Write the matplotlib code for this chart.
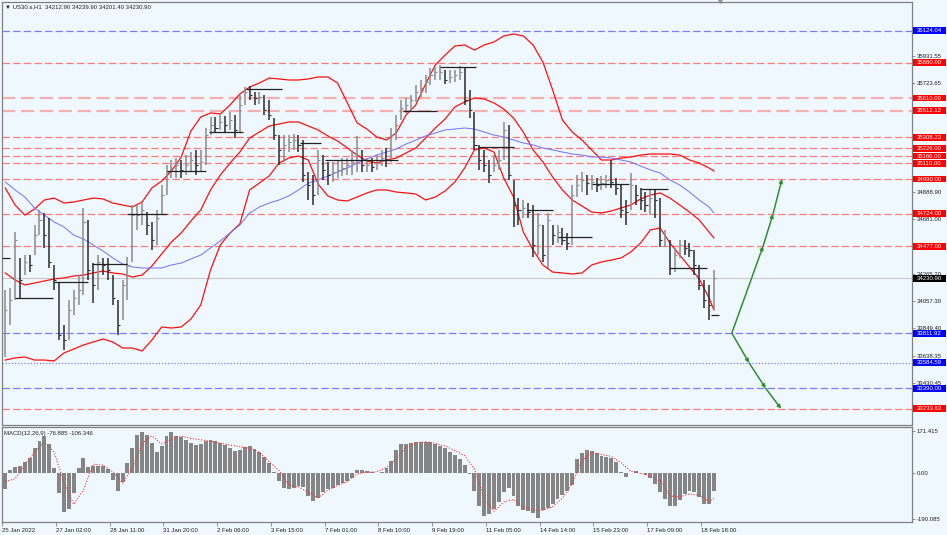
import matplotlib
matplotlib.use('Agg')
import matplotlib.pyplot as plt
import numpy as np
from matplotlib.patches import Rectangle
from matplotlib.transforms import blended_transform_factory

plt.rcParams['font.family'] = ['Liberation Sans', 'DejaVu Sans']

close = [33989, 34065, 34524, 34218, 34356, 34333, 34562, 34677, 34562, 34356,
         34218, 33798, 33759, 33989, 34081, 34142, 34662, 34295, 34180, 34356,
         34333, 34295, 34081, 33874, 34180, 34333, 34715, 34715, 34754, 34639,
         34524, 34692, 34868, 35044, 35075, 35098, 35060, 35098, 35136, 35098,
         35121, 35327, 35404, 35381, 35427, 35404, 35442, 35366, 35557, 35656,
         35633, 35610, 35618, 35519, 35480, 35327, 35213, 35251, 35274, 35289,
         35251, 35021, 34945, 34868, 35136, 35060, 35021, 35044, 35060, 35075,
         35098, 35121, 35136, 35098, 35098, 35083, 35113, 35151, 35136, 35327,
         35404, 35534, 35557, 35595, 35656, 35687, 35733, 35786, 35809, 35809,
         35748, 35771, 35786, 35809, 35595, 35519, 35251, 35136, 35098, 35021,
         35098, 35136, 35366, 35021, 34792, 34754, 34769, 34738, 34486, 34639,
         34409, 34677, 34562, 34585, 34524, 34501, 34868, 34945, 34983, 34960,
         34968, 34945, 34960, 34983, 34968, 34922, 34754, 34738, 34945, 34868,
         34830, 34792, 34845, 34830, 34524, 34540, 34310, 34409, 34486, 34463,
         34448, 34333, 34180, 34065, 34027, 34230.9]
high = [34142, 34157, 34585, 34387, 34409, 34409, 34639, 34754, 34731, 34692,
        34333, 34195, 33874, 34065, 34142, 34256, 34769, 34677, 34348, 34409,
        34387, 34387, 34256, 34065, 34218, 34394, 34792, 34792, 34807, 34738,
        34662, 34754, 34945, 35098, 35136, 35151, 35136, 35174, 35197, 35213,
        35213, 35381, 35465, 35465, 35480, 35473, 35503, 35480, 35633, 35694,
        35702, 35656, 35656, 35633, 35595, 35457, 35327, 35327, 35327, 35335,
        35327, 35289, 35044, 35021, 35213, 35174, 35121, 35121, 35136, 35151,
        35151, 35213, 35320, 35213, 35151, 35151, 35174, 35213, 35228, 35381,
        35480, 35595, 35610, 35633, 35710, 35748, 35786, 35840, 35847, 35863,
        35825, 35825, 35825, 35855, 35847, 35672, 35503, 35251, 35213, 35136,
        35174, 35213, 35427, 35404, 34983, 34845, 34830, 34807, 34792, 34731,
        34639, 34731, 34639, 34639, 34616, 34578, 34945, 35021, 35044, 35021,
        35021, 34998, 35014, 35021, 35136, 34998, 34945, 34830, 35037, 34945,
        34922, 34891, 34907, 34907, 34845, 34601, 34524, 34463, 34524, 34524,
        34501, 34448, 34333, 34218, 34180, 34295]
low = [33629, 33874, 34065, 34081, 34256, 34279, 34409, 34562, 34463, 34310,
       34142, 33759, 33683, 33759, 33950, 34027, 34103, 34218, 34042, 34142,
       34256, 34218, 34027, 33798, 33912, 34065, 34356, 34601, 34639, 34562,
       34448, 34486, 34715, 34868, 34998, 34998, 34998, 35021, 35044, 35021,
       35044, 35098, 35327, 35343, 35366, 35350, 35366, 35304, 35350, 35557,
       35595, 35557, 35564, 35480, 35442, 35289, 35098, 35136, 35197, 35213,
       35197, 34968, 34830, 34792, 34868, 34983, 34945, 34968, 34998, 35014,
       35021, 35021, 35044, 35044, 35044, 35044, 35060, 35090, 35083, 35121,
       35289, 35442, 35496, 35503, 35580, 35618, 35649, 35710, 35748, 35748,
       35717, 35725, 35733, 35748, 35557, 35457, 35213, 35060, 35044, 34960,
       35044, 35060, 35136, 34983, 34624, 34639, 34692, 34692, 34394, 34409,
       34356, 34310, 34486, 34501, 34486, 34448, 34486, 34853, 34891, 34868,
       34907, 34891, 34907, 34922, 34922, 34868, 34692, 34639, 34754, 34792,
       34754, 34738, 34715, 34692, 34471, 34471, 34256, 34279, 34387, 34409,
       34394, 34256, 34142, 34004, 33912, 33989]

# indicator lines, sampled every 2nd bar
band_bars = list(range(0, 145, 2)) + [145]
bb_upper = [34922, 34792, 34715, 34761, 34830, 34845, 34807, 34815, 34830, 34845,
            34838, 34807, 34792, 34777, 34815, 34922, 34975, 35052, 35159, 35358,
            35465, 35496, 35488, 35557, 35641, 35694, 35725, 35763, 35756, 35748,
            35748, 35756, 35771, 35771, 35725, 35572, 35419, 35373, 35312, 35289,
            35343, 35480, 35557, 35717, 35863, 35939, 36008, 36016, 35977, 36016,
            36039, 36085, 36100, 36085, 36016, 35886, 35672, 35442, 35350, 35289,
            35213, 35136, 35136, 35151, 35159, 35174, 35182, 35182, 35182, 35174,
            35136, 35113, 35075, 35052]
bb_middle = [34272, 34218, 34180, 34195, 34211, 34226, 34234, 34249, 34256, 34272,
             34287, 34272, 34264, 34241, 34256, 34325, 34417, 34509, 34578, 34670,
             34754, 34907, 35021, 35113, 35197, 35304, 35350, 35396, 35411, 35427,
             35427, 35396, 35366, 35320, 35281, 35228, 35174, 35128, 35113, 35136,
             35151, 35190, 35228, 35304, 35381, 35450, 35542, 35580, 35610, 35603,
             35572, 35526, 35457, 35350, 35213, 35121, 35006, 34907, 34830, 34784,
             34738, 34731, 34746, 34769, 34792, 34838, 34868, 34884, 34845, 34792,
             34738, 34677, 34585, 34540]
bb_lower = [33606, 33622, 33629, 33606, 33606, 33599, 33660, 33690, 33721, 33744,
            33767, 33744, 33698, 33698, 33675, 33759, 33859, 33851, 33859, 33920,
            34027, 34295, 34486, 34578, 34647, 34907, 34960, 35014, 35113, 35151,
            35167, 35136, 34953, 34861, 34830, 34823, 34853, 34884, 34907, 34907,
            34891, 34884, 34876, 34830, 34853, 34899, 34968, 35075, 35213, 35228,
            35197, 34998, 34853, 34585, 34448, 34333, 34279, 34272, 34264, 34272,
            34333, 34356, 34371, 34387, 34432, 34501, 34601, 34616, 34501, 34409,
            34318, 34226, 34081, 33989]
ma_blue = [34968, 34907, 34853, 34769, 34715, 34662, 34624, 34562, 34532, 34486,
           34440, 34387, 34341, 34318, 34310, 34310, 34310, 34333, 34348, 34379,
           34409, 34463, 34517, 34578, 34639, 34731, 34777, 34807, 34830, 34861,
           34907, 34960, 34983, 35014, 35044, 35075, 35113, 35144, 35174, 35197,
           35220, 35258, 35289, 35320, 35343, 35366, 35373, 35381, 35373, 35350,
           35327, 35312, 35289, 35266, 35251, 35228, 35213, 35197, 35182, 35174,
           35159, 35159, 35151, 35136, 35121, 35090, 35060, 35037, 34983, 34945,
           34891, 34830, 34777, 34731]

# black step levels (start hour, end hour, price)
pivot_start = [0, 8, 32, 55, 77, 101, 127, 150, 183, 198, 246, 269, 292, 322, 341, 362, 392, 410, 435]
pivot_end = [5, 31, 53, 77, 101, 125, 148, 172, 196, 243, 267, 291, 314, 338, 362, 385, 409, 433, 440]
pivot_price = [34387, 34080, 34203, 34338, 34723, 35052, 35350, 35679, 35266, 35136,
               35511, 35847, 35235, 34754, 34547, 34953, 34914, 34310, 33950]

levels = [36124.04, 35880.00, 35610.00, 35512.12, 35308.23, 35226.00, 35166.00, 35110.00,
          34990.00, 34724.00, 34477.00, 33811.92, 33584.59, 33390.00, 33233.63]
level_kind = ['blue', 'red', 'pink', 'pink', 'red', 'red', 'red', 'red',
              'red', 'red', 'red', 'blue', 'dot', 'blue', 'red']
last_price = 34230.90

up_hours = [448, 467.2, 473.3, 478.8]
up_prices = [33811.92, 34477.00, 34724.00, 34990.00]
down_hours = [448, 458.6, 468.8, 478.2]
down_prices = [33811.92, 33584.59, 33390.00, 33233.63]

# MACD(12,26,9)
macd_hist = [-65, 10, 24, 26, 45, 62, 100, 132, 152, 120,
             20, -85, -160, -150, -85, 20, 60, 24, 27, 27,
             27, 15, -30, -75, -40, 40, 103, 155, 168, 154,
             121, 87, 110, 152, 166, 152, 147, 135, 122, 114,
             118, 130, 135, 132, 123, 112, 100, 89, 93, 106,
             110, 97, 85, 65, 38, 5, -35, -61, -65, -63,
             -56, -60, -97, -116, -102, -80, -68, -62, -52, -43,
             -36, -20, 12, 11, 6, 2, 0, 5, 18, 50,
             95, 116, 120, 124, 127, 127, 127, 126, 120, 108,
             100, 84, 74, 58, 30, -5, -75, -138, -178, -168,
             -150, -122, -80, -64, -95, -135, -152, -156, -167, -185,
             -152, -143, -128, -109, -90, -77, -50, 55, 83, 92,
             89, 80, 67, 63, 59, 43, 2, -18, 0, 8,
             0, -9, -20, -45, -78, -108, -135, -135, -110, -89,
             -75, -78, -100, -129, -128, -76.885]
signal_bars = list(range(0, 145, 2)) + [145]
macd_signal = [-36, -25, 33, 85, 125, 85, -40, -130, -70, 35,
               31, 4, -43, 18, 120, 152, 118, 138, 150, 141,
               135, 130, 121, 113, 107, 101, 83, 45, 10, -50,
               -58, -80, -103, -72, -53, -36, -5, 3, 3, 22,
               56, 104, 122, 127, 120, 110, 91, 70, 15, -105,
               -158, -120, -110, -140, -154, -154, -140, -105, -45, 50,
               84, 75, 67, 41, 6, -3, -12, -35, -95, -100,
               -87, -92, -118, -106.346]

price_ticks = [36139.45, 35931.55, 35723.65, 34888.90, 34681.00,
               34265.20, 34057.30, 33849.40, 33638.35, 33430.45]
macd_ticks = [171.415, 0.0, -190.085]
macd_tick_labels = ['171.415', '0.00', '-190.085']
time_ticks = [0, 33, 66, 99, 132, 165, 198, 231, 264, 297, 330, 363, 396, 429]
time_labels = ['25 Jan 2022', '27 Jan 02:00', '28 Jan 11:00', '31 Jan 20:00', '2 Feb 06:00',
               '3 Feb 15:00', '7 Feb 01:00', '8 Feb 10:00', '9 Feb 19:00', '11 Feb 05:00',
               '14 Feb 14:00', '15 Feb 23:00', '17 Feb 09:00', '18 Feb 18:00']


def price_tag(ax, trans, price, color, fs):
    # box 913..946 px wide, about 7 px tall
    ax.add_patch(Rectangle((1.0011, price - 26), 0.0363, 52, transform=trans,
                           facecolor=color, edgecolor='none', clip_on=False, zorder=9))
    ax.text(1.0050, price, f'{price:.2f}', transform=trans, ha='left', va='center',
            color='white', fontsize=fs, clip_on=False, zorder=10)


def main():
    bg = '#f0f8ff'
    fs = 4.3
    fig = plt.figure(figsize=(9.47, 5.35), dpi=100, facecolor=bg)
    ax = fig.add_axes([2 / 947, 110 / 535, 910 / 947, 423 / 535])
    ax2 = fig.add_axes([2 / 947, 13 / 535, 910 / 947, 95 / 535], sharex=ax)

    for a in (ax, ax2):
        a.set_facecolor(bg)
        for s in a.spines.values():
            s.set_color('#808080')
            s.set_linewidth(0.9)

    hours = 3 * np.arange(len(close)) + 2
    band_h = 3 * np.array(band_bars) + 2
    sig_h = 3 * np.array(signal_bars) + 2

    # horizontal levels
    styles = {
        'red': dict(color='#ff7b7b', ls=(0, (6, 2.5)), lw=0.9),
        'pink': dict(color='#f4b0b0', ls=(0, (6, 2.5)), lw=1.6),
        'blue': dict(color='#7b7bff', ls=(0, (6, 2.5)), lw=0.9),
        'dot': dict(color='#7b7bff', ls=(0, (1, 1.5)), lw=0.9),
    }
    tag_colors = {'red': '#ff0000', 'pink': '#ff0000', 'blue': '#0000ff', 'dot': '#0000ff'}
    trans = blended_transform_factory(ax.transAxes, ax.transData)
    for p, k in zip(levels, level_kind):
        ax.axhline(p, zorder=1, **styles[k])
        price_tag(ax, trans, p, tag_colors[k], fs)
    ax.axhline(last_price, color='#c8c8c8', lw=0.8, zorder=1)
    price_tag(ax, trans, last_price, '#000000', fs)

    # bands and MA
    for band in (bb_upper, bb_middle, bb_lower):
        ax.plot(band_h, band, color='#ff1010', lw=0.9, zorder=3, solid_joinstyle='round')
    ax.plot(band_h, ma_blue, color='#7070ff', lw=0.7, zorder=3, solid_joinstyle='round')

    # bars
    c = np.array(close)
    up = np.r_[True, np.diff(c) >= 0]
    cols = np.where(up, '#8a8a8a', '#2a2a2a')
    ax.vlines(hours, low, high, colors=cols, lw=1.1, zorder=4)
    ax.hlines(c, hours, hours + 1.3, colors=cols, lw=0.8, zorder=4)

    ax.hlines(pivot_price, pivot_start, pivot_end, colors='#222222', lw=0.9, zorder=5)

    # projection arrows
    for hs, ps in ((up_hours, up_prices), (down_hours, down_prices)):
        for i in range(len(hs) - 1):
            ax.annotate('', xy=(hs[i + 1], ps[i + 1]), xytext=(hs[i], ps[i]),
                        arrowprops=dict(arrowstyle='-|>', color='#2f8f2f', lw=1.1,
                                        mutation_scale=5, shrinkA=0, shrinkB=0),
                        zorder=6)

    ax.set_xlim(0, 558.6)
    ax.set_ylim(33109.1, 36344.6)
    ax.yaxis.tick_right()
    ax.set_yticks(price_ticks)
    ax.set_yticklabels([f'{t:.2f}' for t in price_ticks])
    ax.tick_params(axis='y', direction='out', length=2, width=0.6, color='#808080',
                   labelsize=fs, pad=1.5, labelcolor='#202020')
    ax.tick_params(axis='x', bottom=False, labelbottom=False)

    # MACD panel
    ax2.bar(hours, macd_hist, width=2.4, color='#858585', linewidth=0, zorder=2)
    ax2.plot(sig_h, macd_signal, color='#ff3030', lw=0.8, ls=(0, (1, 1.5)), zorder=3)
    ax2.set_ylim(-202.4, 187.8)
    ax2.yaxis.tick_right()
    ax2.set_yticks(macd_ticks)
    ax2.set_yticklabels(macd_tick_labels)
    ax2.tick_params(axis='y', direction='out', length=2, width=0.6, color='#808080',
                    labelsize=fs, pad=1.5, labelcolor='#202020')
    ax2.set_xticks(time_ticks)
    ax2.set_xticklabels(time_labels)
    ax2.tick_params(axis='x', direction='out', length=3, width=0.6, color='#808080',
                    labelsize=fs, pad=1, labelcolor='#202020')
    for t in ax2.get_xticklabels():
        t.set_ha('left')

    ax.plot([441], [1.004], transform=blended_transform_factory(ax.transData, ax.transAxes),
            marker='v', ms=4, color='#9a9a9a', clip_on=False)

    fig.text(5 / 947, 1 - 6.5 / 535, '\u25bc US30.s,H1  34212.90 34239.90 34201.40 34230.90',
             fontsize=fs, ha='left', va='center', color='#202020')
    fig.text(4 / 947, 1 - 433.5 / 535, 'MACD(12,26,9) -76.885 -106.346',
             fontsize=fs, ha='left', va='center', color='#202020')

    fig.savefig('out.png', dpi=100, facecolor=bg)


if __name__ == '__main__':
    main()
